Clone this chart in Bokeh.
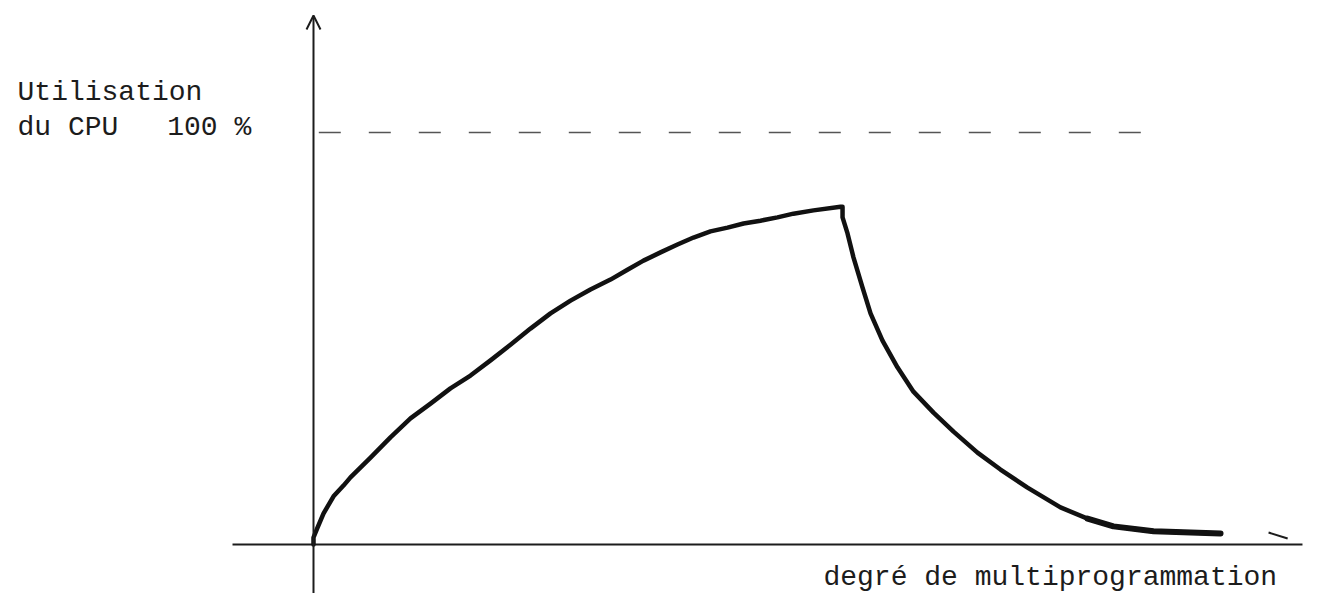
from bokeh.plotting import figure
from bokeh.models import Range1d, Label, Arrow, OpenHead, ColumnDataSource
from bokeh.embed import file_html
from bokeh.resources import INLINE

# Data: CPU utilisation (%) vs degree of multiprogramming (arbitrary units)
degre = [0.0, 0.0, 0.038, 0.094, 0.189, 0.283, 0.349, 0.538, 0.726, 0.915, 1.104,
         1.292, 1.481, 1.670, 1.858, 2.047, 2.236, 2.425, 2.613, 2.802, 2.962,
         3.113, 3.274, 3.434, 3.585, 3.745, 3.906, 4.057, 4.217, 4.377, 4.528,
         4.717, 4.972, 4.991,
         4.991, 5.038, 5.094, 5.179, 5.255, 5.368, 5.509, 5.660, 5.849, 6.038,
         6.264, 6.481, 6.736, 7.047, 7.302, 7.547, 7.925, 8.557]
utilisation = [0.0, 1.7, 4.1, 7.5, 11.7, 14.3, 16.3, 21.1, 26.0, 30.6, 34.2,
               37.9, 41.0, 44.7, 48.5, 52.4, 56.1, 59.2, 61.9, 64.3, 66.7,
               68.9, 70.9, 72.8, 74.5, 76.0, 76.9, 77.9, 78.6, 79.4, 80.3,
               81.1, 82.0, 82.0,
               79.4, 75.5, 69.7, 62.4, 56.1, 49.5, 43.0, 37.1, 32.0, 27.4,
               22.3, 18.2, 13.8, 9.0, 6.3, 4.4, 3.2, 2.7]

max_level = 100
max_span = [0.05, 7.87]
x_axis_span = [-0.764, 9.33]
y_axis_span = [-15.8, 128.4]
x_arrow_stroke = ([9.01, 9.19], [2.9, 1.46])

title_lines = ["Utilisation", "du CPU"]
max_label = "100 %"
x_label = "degré de multiprogrammation"

FONT = "Liberation Mono"
INK = "#1c1c1c"

p = figure(width=1325, height=593, output_backend="svg", toolbar_location=None,
           x_range=Range1d(-2.9528, 9.5472), y_range=Range1d(-11.893, 132.039),
           min_border=0)
p.axis.visible = False
p.grid.visible = False
p.outline_line_color = None
p.background_fill_color = "white"
p.border_fill_color = "white"

# horizontal axis
p.line(x_axis_span, [0, 0], line_color=INK, line_width=2)
p.line(list(x_arrow_stroke[0]), list(x_arrow_stroke[1]), line_color=INK, line_width=2)

# vertical axis with arrow
p.add_layout(Arrow(end=OpenHead(size=14, line_width=2, line_color=INK),
                   x_start=0, y_start=y_axis_span[0], x_end=0, y_end=y_axis_span[1],
                   line_width=2, line_color=INK))

# 100 % dashed level
p.line(max_span, [max_level, max_level], line_color=INK, line_width=1.5,
       line_dash="22 28", line_alpha=0.75)

# curve
src = ColumnDataSource(dict(x=degre, y=utilisation))
p.line("x", "y", source=src, line_color="#111111", line_width=4.5,
       line_join="round", line_cap="round")
# heavier pen pressure on the tail
p.line(degre[-4:], utilisation[-4:], line_color="#111111", line_width=6,
       line_join="round", line_cap="round")

# texts
p.add_layout(Label(x=-2.792, y=109.7, text=title_lines[0], text_font=FONT,
                   text_font_size="28px", text_color=INK, text_baseline="alphabetic"))
p.add_layout(Label(x=-2.792, y=101.2, text=title_lines[1], text_font=FONT,
                   text_font_size="28px", text_color=INK, text_baseline="alphabetic"))
p.add_layout(Label(x=-1.38, y=101.2, text=max_label, text_font=FONT,
                   text_font_size="28px", text_color=INK, text_baseline="alphabetic"))
p.add_layout(Label(x=4.811, y=-8.0, text=x_label, text_font=FONT,
                   text_font_size="28px", text_color=INK, text_baseline="alphabetic"))

open("out.html", "w").write(file_html(p, INLINE))
